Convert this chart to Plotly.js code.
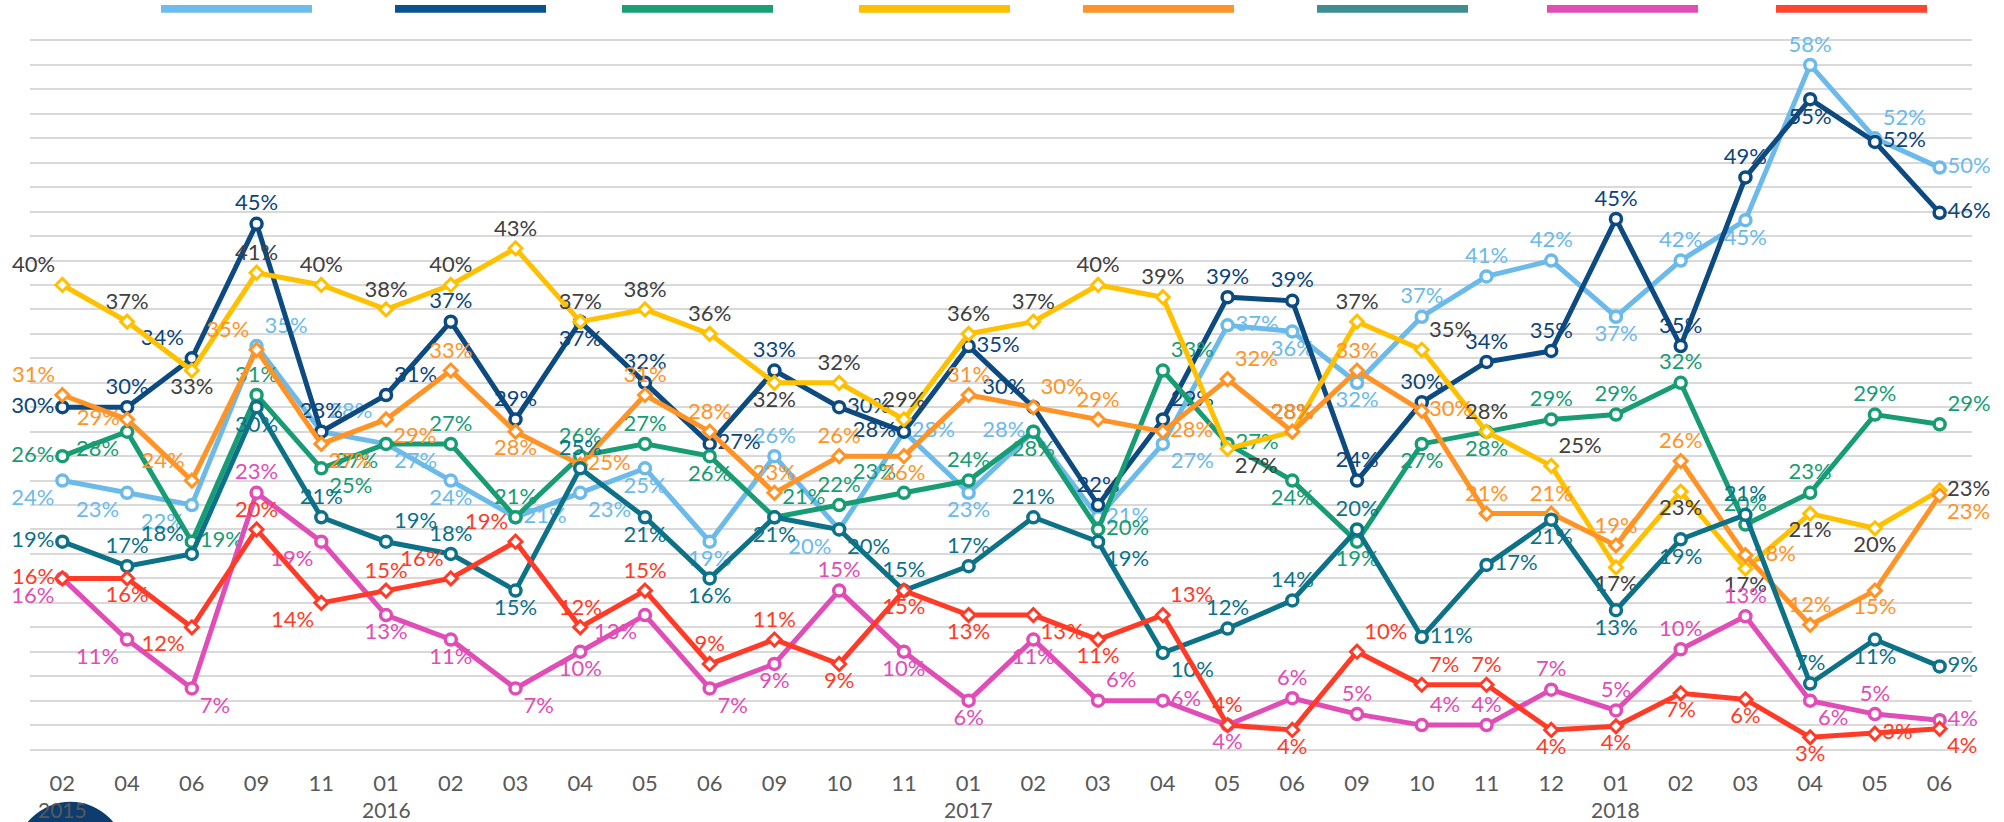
<!DOCTYPE html>
<html><head><meta charset="utf-8">
<script src="https://cdn.plot.ly/plotly-3.0.1.min.js"></script>
<style>html,body{margin:0;padding:0;background:#fff;}#chart{width:2004px;height:822px;}</style>
</head><body><div id="chart"></div>
<script>
// Survey waves (year-month)
const periods = ['2015-02','2015-04','2015-06','2015-09','2015-11',
  '2016-01','2016-02','2016-03','2016-04','2016-05','2016-06','2016-09','2016-10','2016-11',
  '2017-01','2017-02','2017-03','2017-04','2017-05','2017-06','2017-09','2017-10','2017-11','2017-12',
  '2018-01','2018-02','2018-03','2018-04','2018-05','2018-06'];

// Series values (%)
const lightBlue = [24,23,22,35,28,27,24,21,23,25,19,26,20,28,23,28,21,27,36.7,36.2,32,37.4,40.7,42,37.4,42,45.3,58,52,49.6];
const navy      = [30,30,34,45,28,31,37,29,37,32,27,33,30,28,35,30,22,29,39,38.7,24,30.4,33.7,34.6,45.4,35,48.8,55.2,51.7,45.9];
const green     = [26,28,19,31,25,27,27,21,26,27,26,21,22,23,24,28,20,33,27,24,19,27,28,29,29.4,32,20.4,23,29.4,28.6];
const yellow    = [40,37,33,41,40,38,40,43,37,38,36,32,32,29,36,37,40,39,26.6,28,37,34.7,28,25.2,16.9,23.1,16.8,21.3,20.1,23.2];
const orange    = [31,29,24,34.7,27,29,33,28,25.3,31,28,23,26,26,31,30,29,28,32.3,28,33,29.7,21.3,21.3,18.7,25.6,17.9,12.2,15,22.8];
const teal      = [19,17,18,30,21,19,18,15,25,21,16,21,20,15,17,21,19,9.9,11.9,14.2,20,11.2,17.1,20.8,13.4,19.2,21.2,7.4,11,8.8];
const pink      = [16,11,7,23,19,13,11,7,10,13,7,9,15,10,6,11,6,6,4,6.2,4.9,4,4,6.9,5.2,10.2,12.9,6,4.9,4.4];
const red       = [16,16,12,20,14,15,16,19,12,15,9,11,9,15,13,13,11,13,4,3.6,10,7.3,7.3,3.6,3.9,6.6,6.1,3,3.3,3.7];

// Styling
const posCode = {'1':'bottom left','2':'bottom center','3':'bottom right','4':'middle left',
  '6':'middle right','7':'top left','8':'top center','9':'top right'};
const series = [
  {y: lightBlue, color:'#6BBAEA', legend:'#6EBCEB', text:'#6BBAEA', sym:'circle',  pos:'1119932632'+'2816246362'+'2888282896'},
  {y: navy,      color:'#0C4A80', legend:'#0A528E', text:'#0C4578', sym:'circle',  pos:'4878898828'+'6864678988'+'8888888266'},
  {y: green,     color:'#189C74', legend:'#1A9E76', text:'#189C74', sym:'circle',  pos:'4168318888'+'2987826962'+'2228888889'},
  {y: yellow,    color:'#FFC000', legend:'#FFC000', text:'#404040', sym:'diamond', pos:'7828888888'+'8288888838'+'8989222226'},
  {y: orange,    color:'#FF9326', legend:'#FF9229', text:'#FF9326', sym:'diamond', pos:'7477338268'+'8882898698'+'8688886823'},
  {y: teal,      color:'#0D7287', legend:'#3F8C91', text:'#0D7287', sym:'circle',  pos:'4872898282'+'2238883388'+'8662228826'},
  {y: pink,      color:'#E04DB6', legend:'#E04DB5', text:'#E04DB6', sym:'circle',  pos:'1138122321'+'3282229628'+'8988888386'},
  {y: red,       color:'#FF3B28', legend:'#FF4530', text:'#FF3B28', sym:'diamond', pos:'4218187788'+'8822232982'+'9982222263'}
];
const legendStarts = [161,395,622,859,1083,1317,1547,1776];

const FONT = 'Lato, "Open Sans", sans-serif';
const traces = series.map(s => ({
  type:'scatter', mode:'lines+markers+text', x: periods, y: s.y,
  line:{color:s.color, width:5},
  marker: s.sym==='circle'
    ? {symbol:'circle', size:11, color:'#ffffff', line:{color:s.color, width:3.5}}
    : {symbol:'diamond', size:10, color:'#ffffff', line:{color:s.color, width:3}},
  texttemplate:'%{y:.0f}%',
  textposition: s.pos.split('').map(c => posCode[c]),
  textfont:{family:FONT, size:22, color:s.text},
  cliponaxis:false, hoverinfo:'skip'
}));

const monthLabels = periods.map(p => p.split('-')[1]);
const annotations = [];
periods.forEach((p,i) => {
  const yr = p.split('-')[0];
  if (i===0 || periods[i-1].split('-')[0] !== yr) {
    annotations.push({xref:'x', yref:'paper', x:p, y:0, yanchor:'top', yshift:-21,
      text:yr, showarrow:false, font:{family:FONT, size:21, color:'#595959'}});
  }
});

const shapes = [{type:'circle', xref:'paper', yref:'paper', xsizemode:'pixel', ysizemode:'pixel',
  xanchor:0, yanchor:0, x0:-14.5, x1:95.5, y0:-137.7, y1:-27.7,
  fillcolor:'#0C3D6E', line:{width:0}, layer:'below'}];
series.forEach((s,i) => {
  shapes.push({type:'rect', xref:'paper', yref:'paper', xsizemode:'pixel', ysizemode:'pixel',
    xanchor:0, yanchor:1, x0:legendStarts[i]-30, x1:legendStarts[i]-30+151, y0:3.3, y1:11,
    fillcolor:s.legend, line:{width:0}});
});

const gridVals = [];
for (let v = 2; v <= 62; v += 2) gridVals.push(v);

const layout = {
  width:2004, height:822,
  margin:{l:30, r:32, t:16, b:48, pad:0},
  paper_bgcolor:'#ffffff', plot_bgcolor:'#ffffff',
  showlegend:false,
  font:{family:FONT, color:'#595959'},
  xaxis:{type:'category', tickvals:periods, ticktext:monthLabels, showgrid:false, zeroline:false,
    showline:false, ticks:'', tickfont:{family:FONT, size:22, color:'#595959'}, ticklabelstandoff:-6,
    range:[-0.5, 29.5]},
  yaxis:{range:[0,62], tickvals:gridVals, showticklabels:false, showgrid:true, gridcolor:'#D9D9D9',
    gridwidth:2, zeroline:false, showline:false, ticks:''},
  annotations: annotations,
  shapes: shapes
};
Plotly.newPlot('chart', traces, layout, {displayModeBar:false, staticPlot:true});
</script></body></html>
